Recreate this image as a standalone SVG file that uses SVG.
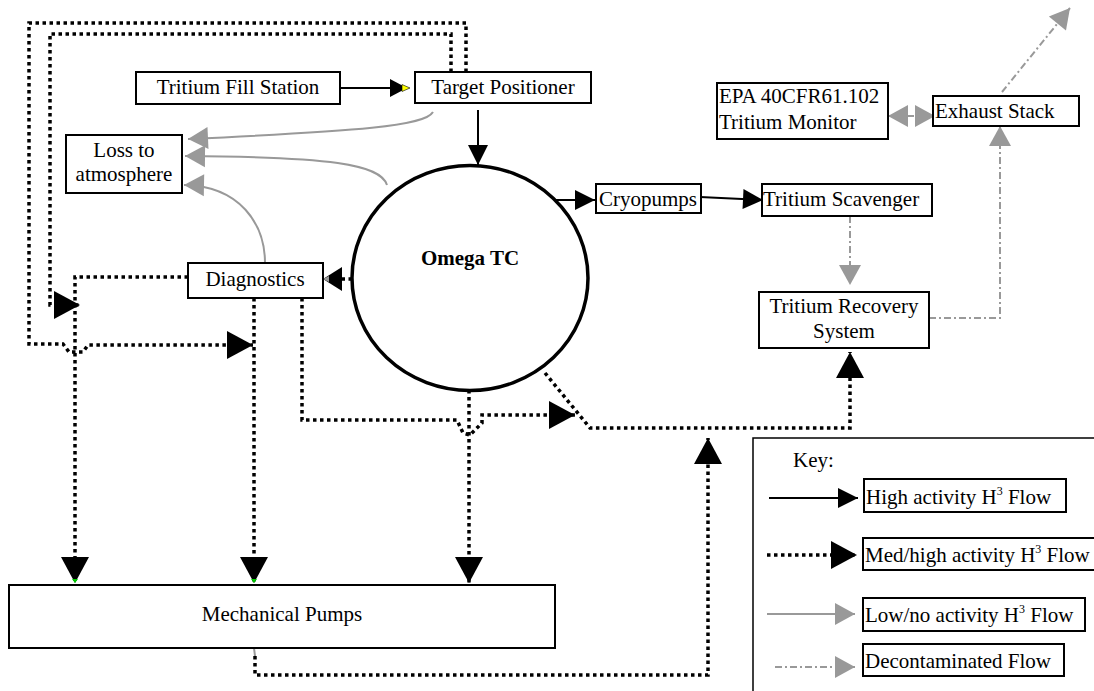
<svg xmlns="http://www.w3.org/2000/svg" width="1094" height="691" viewBox="0 0 1094 691">
<style>
text{font-family:'Liberation Serif','DejaVu Serif',serif;font-size:21px;fill:#000}
.box{fill:#fff;stroke:#000;stroke-width:2}
.blk{fill:none;stroke:#000;stroke-width:2}
.dot{fill:none;stroke:#000;stroke-width:3.5;stroke-dasharray:3.5 3.5}
.gry{fill:none;stroke:#999;stroke-width:2}
.dd{fill:none;stroke:#999;stroke-width:2;stroke-dasharray:7 3 2 3}
.dsh{fill:none;stroke:#999;stroke-width:2;stroke-dasharray:6 4}
</style>
<defs>
<marker id="aBlk" markerUnits="userSpaceOnUse" markerWidth="20" markerHeight="20" refX="20" refY="10" orient="auto" overflow="visible"><path d="M0,0L20,10L0,20z" fill="#000"/></marker>
<marker id="aMed" markerUnits="userSpaceOnUse" markerWidth="26" markerHeight="28" refX="26" refY="14" orient="auto" overflow="visible"><path d="M0,0L26,14L0,28z" fill="#000"/></marker>
<marker id="aGry" markerUnits="userSpaceOnUse" markerWidth="20" markerHeight="22" refX="20" refY="11" orient="auto" overflow="visible"><path d="M0,0L20,11L0,22z" fill="#999"/></marker>
<marker id="aGryS" markerUnits="userSpaceOnUse" markerWidth="20" markerHeight="22" refX="20" refY="11" orient="auto-start-reverse" overflow="visible"><path d="M0,0L20,11L0,22z" fill="#999"/></marker>
</defs>
<rect width="1094" height="691" fill="#fff"/>

<g id="connectors">
  <path class="blk" d="M340,88H390"/>
  <path d="M390,79L407,88L390,97z" fill="#000"/>
  <path d="M402,84.5L410,88L402,91.5z" fill="#ff0" stroke="#000" stroke-width="0.6"/>
  <path class="blk" d="M478,110V165" marker-end="url(#aBlk)"/>
  <path class="blk" d="M556,200H595" marker-end="url(#aBlk)"/>
  <path class="blk" d="M700,197L763,200" marker-end="url(#aBlk)"/>
  <path class="gry" d="M433,112C425,126 360,131 188,139" marker-end="url(#aGry)"/>
  <path class="gry" d="M387,185C380,164 330,157 185,156" marker-end="url(#aGry)"/>
  <path class="gry" d="M265,263C265,224 240,186 184,185" marker-end="url(#aGry)"/>
  <path class="dot" d="M466,72V23H29V344H63L69,352H83L88,345H253" marker-end="url(#aMed)"/>
  <path class="dot" d="M451,72V34H50V305H80" marker-end="url(#aMed)"/>
  <path class="dot" d="M188,277H75V583" marker-end="url(#aMed)"/>
  <path class="dot" d="M254,298V583" marker-end="url(#aMed)"/>
  <path class="dot" d="M302,298V420H457L463,433L470,435L482,423V415H575" marker-end="url(#aMed)"/>
  <path class="dot" d="M469,390V583" marker-end="url(#aMed)"/>
  <path class="dot" d="M545,373L590,428H850V352" marker-end="url(#aMed)"/>
  <path class="dot" d="M352,279H335"/>
  <path d="M342,267L323,279L342,291z" fill="#000"/>
  <path d="M329,276L323,279L329,282z" fill="#999"/>
  <path class="gry" d="M254,648L255,656"/>
  <path class="dot" d="M255,656V675H708V438" marker-end="url(#aMed)"/>
  <path d="M72,579L75,583L78,579z" fill="#0c0"/>
  <path d="M251,579L254,583L257,579z" fill="#0c0"/>
  <path class="dd" d="M850,216V285" marker-end="url(#aGry)"/>
  <path class="dd" d="M929,318H1000V126" marker-end="url(#aGry)"/>
  <path class="dd" d="M1002,92L1070,8" marker-end="url(#aGry)"/>
  <path class="dsh" d="M888,116H935" marker-start="url(#aGryS)" marker-end="url(#aGryS)"/>
</g>

<g id="node-fill"><rect class="box" x="136" y="72" width="204" height="32"/><text x="238" y="94" text-anchor="middle">Tritium Fill Station</text></g>
<g id="node-target"><rect class="box" x="415" y="72" width="176" height="31"/><text x="503" y="94" text-anchor="middle">Target Positioner</text></g>
<g id="node-loss"><rect class="box" x="66" y="135" width="116" height="58"/><text x="124" y="157" text-anchor="middle">Loss to</text><text x="124" y="181" text-anchor="middle">atmosphere</text></g>
<g id="node-omega"><ellipse cx="470" cy="278" rx="118" ry="112.5" fill="none" stroke="#000" stroke-width="3.5"/><text x="470" y="265" text-anchor="middle" font-weight="bold">Omega TC</text></g>
<g id="node-diag"><rect class="box" x="188" y="263" width="135" height="35"/><text x="255" y="286" text-anchor="middle">Diagnostics</text></g>
<g id="node-cryo"><rect class="box" x="596" y="184" width="105" height="29"/><text x="648" y="206" text-anchor="middle">Cryopumps</text></g>
<g id="node-scav"><rect class="box" x="762" y="184" width="170" height="32"/><text x="763" y="206">Tritium Scavenger</text></g>
<g id="node-epa"><rect class="box" x="717" y="83" width="171" height="56"/><text x="719" y="103">EPA 40CFR61.102</text><text x="719" y="129">Tritium Monitor</text></g>
<g id="node-exhaust"><rect class="box" x="933" y="96" width="146" height="30"/><text x="935" y="118">Exhaust Stack</text></g>
<g id="node-recovery"><rect class="box" x="759" y="292" width="170" height="56"/><text x="844" y="313" text-anchor="middle">Tritium Recovery</text><text x="844" y="338" text-anchor="middle">System</text></g>
<g id="node-mech"><rect class="box" x="9" y="585" width="546" height="63"/><text x="282" y="621" text-anchor="middle">Mechanical Pumps</text></g>

<g id="key">
  <rect x="753" y="438" width="400" height="300" fill="none" stroke="#000" stroke-width="1.5"/>
  <text x="793" y="467">Key:</text>
  <path class="blk" d="M769,498H858" marker-end="url(#aBlk)"/>
  <rect class="box" x="864" y="479" width="202" height="33"/>
  <text x="866" y="504">High activity H<tspan font-size="12" dy="-9">3</tspan><tspan dy="9"> Flow</tspan></text>
  <path class="dot" d="M767,555H857" marker-end="url(#aMed)"/>
  <rect class="box" x="863" y="538" width="240" height="32"/>
  <text x="865" y="562">Med/high activity H<tspan font-size="12" dy="-9">3</tspan><tspan dy="9"> Flow</tspan></text>
  <path class="gry" d="M767,614H855" marker-end="url(#aGry)"/>
  <rect class="box" x="863" y="598" width="222" height="33"/>
  <text x="865" y="622">Low/no activity H<tspan font-size="12" dy="-9">3</tspan><tspan dy="9"> Flow</tspan></text>
  <path class="dd" d="M775,667H855" marker-end="url(#aGry)"/>
  <rect class="box" x="863" y="644" width="201" height="32"/>
  <text x="865" y="668">Decontaminated Flow</text>
</g>
</svg>
